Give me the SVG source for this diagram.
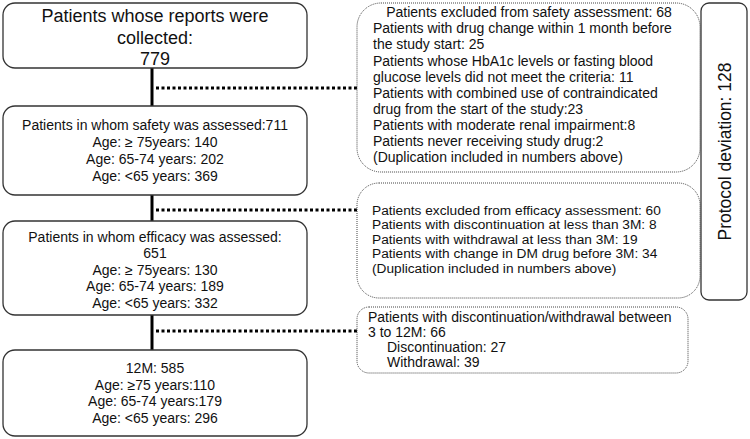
<svg xmlns="http://www.w3.org/2000/svg" width="750" height="439" viewBox="0 0 750 439">
<style>
text{font-family:"Liberation Sans",Arial,sans-serif;fill:#111}
.s{fill:#fff;stroke:#333;stroke-width:1.3}
.d{fill:#fff;stroke:#444;stroke-width:1;stroke-dasharray:1 1}
.t{font-size:14px}
.b{font-size:13.7px}
.c{text-anchor:middle}
.v{stroke:#000;stroke-width:3;fill:none}
.h{stroke:#000;stroke-width:3;stroke-dasharray:3 2.5;fill:none}
</style>
<rect width="750" height="439" fill="#fff"/>
<g id="connectors">
<line class="v" x1="152" y1="68" x2="152" y2="106"/>
<line class="v" x1="152" y1="195" x2="152" y2="221"/>
<line class="v" x1="152" y1="315" x2="152" y2="350"/>
<line class="h" x1="156" y1="88" x2="357" y2="88"/>
<line class="h" x1="156" y1="210" x2="357" y2="210"/>
<line class="h" x1="156" y1="331" x2="357" y2="331"/>
</g>
<g id="collected">
<rect class="s" x="3" y="3" width="304" height="65" rx="12"/>
<text class="c" x="155" y="22" font-size="18">Patients whose reports were</text>
<text class="c" x="155" y="44" font-size="18">collected:</text>
<text class="c" x="155" y="65" font-size="18">779</text>
</g>
<g id="safety">
<rect class="s" x="3" y="106" width="304" height="89" rx="12"/>
<text class="t c" x="155" y="130">Patients in whom safety was assessed:711</text>
<text class="t c" x="155" y="147">Age: ≥ 75years: 140</text>
<text class="t c" x="155" y="164">Age: 65-74 years: 202</text>
<text class="t c" x="155" y="181">Age: &lt;65 years: 369</text>
</g>
<g id="efficacy">
<rect class="s" x="3" y="221" width="304" height="94" rx="12"/>
<text class="t c" x="155" y="242">Patients in whom efficacy was assessed:</text>
<text class="t c" x="155" y="258">651</text>
<text class="t c" x="155" y="274.5">Age: ≥ 75years: 130</text>
<text class="t c" x="155" y="291">Age: 65-74 years: 189</text>
<text class="t c" x="155" y="307.5">Age: &lt;65 years: 332</text>
</g>
<g id="m12">
<rect class="s" x="3" y="350" width="304" height="86" rx="12"/>
<text class="t c" x="155" y="373">12M: 585</text>
<text class="t c" x="155" y="389.5">Age: ≥75 years:110</text>
<text class="t c" x="155" y="406">Age: 65-74 years:179</text>
<text class="t c" x="155" y="422.5">Age: &lt;65 years: 296</text>
</g>
<g id="excl-safety">
<rect class="d" x="357" y="3" width="343" height="169" rx="24"/>
<text class="t c" x="529" y="17">Patients excluded from safety assessment: 68</text>
<text class="t" x="373" y="33">Patients with drug change within 1 month before</text>
<text class="t" x="373" y="49">the study start: 25</text>
<text class="t" x="373" y="65.5">Patients whose HbA1c levels or fasting blood</text>
<text class="t" x="373" y="81.5">glucose levels did not meet the criteria: 11</text>
<text class="t" x="373" y="97.5">Patients with combined use of contraindicated</text>
<text class="t" x="373" y="113.5">drug from the start of the study:23</text>
<text class="t" x="373" y="129.5">Patients with moderate renal impairment:8</text>
<text class="t" x="373" y="146">Patients never receiving study drug:2</text>
<text class="t" x="373" y="162">(Duplication included in numbers above)</text>
</g>
<g id="excl-efficacy">
<rect class="d" x="357" y="183" width="343" height="115" rx="22"/>
<text class="b" x="372" y="215">Patients excluded from efficacy assessment: 60</text>
<text class="b" x="372" y="229.4">Patients with discontinuation at less than 3M: 8</text>
<text class="b" x="372" y="243.8">Patients with withdrawal at less than 3M: 19</text>
<text class="b" x="372" y="258.2">Patients with change in DM drug before 3M: 34</text>
<text class="b" x="372" y="272.6">(Duplication included in numbers above)</text>
</g>
<g id="disc-withdrawal">
<rect class="d" x="357" y="307" width="331" height="66" rx="12"/>
<text class="t" x="368" y="322">Patients with discontinuation/withdrawal between</text>
<text class="t" x="368" y="337">3 to 12M: 66</text>
<text class="t" x="387" y="352">Discontinuation: 27</text>
<text class="t" x="387" y="367">Withdrawal: 39</text>
</g>
<g id="protocol">
<rect class="s" x="701" y="3" width="46" height="297" rx="8"/>
<text class="c" transform="translate(731,151.5) rotate(-90)" font-size="17.5">Protocol deviation: 128</text>
</g>
</svg>
